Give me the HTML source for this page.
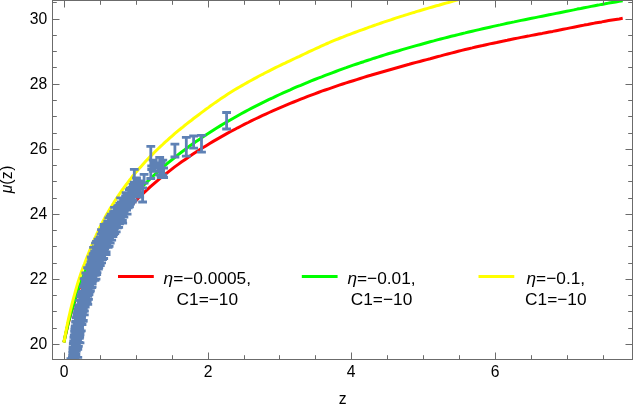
<!DOCTYPE html>
<html><head><meta charset="utf-8"><title>plot</title>
<style>
html,body{margin:0;padding:0;background:#fff;}
svg{display:block;will-change:transform;font-family:"Liberation Sans",sans-serif;}
</style></head><body>
<svg width="635" height="406" viewBox="0 0 635 406">
<defs><clipPath id="c"><rect x="52.5" y="0.5" width="580.0" height="359.0"/></clipPath></defs>
<g clip-path="url(#c)" fill="none" stroke-linecap="butt" stroke-linejoin="round">
<path d="M63.9 342.4 L64.9 337.7 L65.9 333.3 L66.9 329.1 L67.8 325.2 L68.8 321.4 L69.8 317.8 L70.7 314.4 L71.7 311.1 L72.7 307.9 L73.6 304.9 L74.6 302.0 L75.5 299.2 L76.4 296.5 L77.3 293.8 L78.2 291.3 L79.1 288.8 L80.0 286.4 L80.9 284.1 L81.8 281.9 L82.7 279.7 L83.6 277.5 L84.6 275.4 L85.5 273.4 L86.4 271.4 L87.3 269.5 L88.2 267.6 L89.1 265.7 L90.0 263.9 L90.9 262.1 L91.8 260.4 L92.7 258.7 L93.6 257.0 L94.5 255.4 L95.4 253.7 L96.3 252.2 L97.3 250.6 L98.2 249.1 L99.1 247.6 L100.0 246.1 L100.9 244.6 L101.8 243.2 L102.7 241.8 L103.6 240.4 L104.5 239.0 L105.4 237.7 L106.3 236.3 L107.2 235.0 L108.1 233.7 L109.0 232.5 L109.9 231.2 L110.9 230.0 L111.8 228.7 L112.7 227.5 L113.6 226.3 L114.5 225.1 L115.4 224.0 L116.3 222.8 L117.2 221.7 L118.1 220.5 L119.0 219.4 L119.9 218.3 L120.8 217.2 L121.7 216.1 L122.6 215.1 L123.6 214.0 L124.5 213.0 L125.4 211.9 L126.3 210.9 L127.2 209.9 L128.1 208.9 L129.0 207.9 L129.9 206.9 L130.8 205.9 L131.7 205.0 L132.6 204.0 L133.5 203.1 L134.4 202.1 L135.3 201.2 L136.2 200.3 L139.7 196.8 L143.2 193.4 L146.7 190.1 L150.2 186.9 L153.7 183.8 L157.2 180.8 L160.7 177.9 L164.2 175.1 L167.7 172.3 L171.2 169.6 L174.7 166.9 L178.2 164.4 L181.7 161.8 L185.2 159.4 L188.7 157.0 L192.2 154.6 L195.7 152.3 L199.2 150.0 L202.7 147.8 L206.2 145.7 L209.7 143.5 L213.2 141.4 L216.7 139.4 L220.2 137.4 L223.7 135.4 L227.2 133.4 L230.7 131.5 L234.2 129.7 L237.7 127.8 L241.2 126.0 L244.7 124.2 L248.2 122.5 L251.7 120.7 L255.2 119.0 L258.7 117.4 L262.2 115.7 L265.7 114.1 L269.2 112.5 L272.7 110.9 L276.2 109.4 L279.7 107.9 L283.2 106.4 L286.7 104.9 L290.2 103.4 L293.7 102.0 L297.2 100.6 L300.7 99.2 L304.2 97.8 L307.7 96.4 L311.2 95.1 L314.7 93.8 L318.2 92.5 L321.7 91.2 L325.2 90.0 L328.7 88.8 L332.2 87.6 L335.7 86.4 L339.2 85.2 L342.7 84.0 L346.2 82.9 L349.7 81.8 L353.2 80.7 L356.7 79.6 L360.2 78.5 L363.7 77.4 L367.2 76.3 L370.7 75.3 L374.2 74.2 L377.7 73.2 L381.2 72.2 L384.7 71.2 L388.2 70.2 L391.7 69.2 L395.2 68.2 L398.7 67.2 L402.2 66.2 L405.7 65.2 L409.2 64.3 L412.7 63.3 L416.2 62.4 L419.7 61.5 L423.2 60.5 L426.7 59.6 L430.2 58.7 L433.7 57.7 L437.2 56.8 L440.7 55.9 L444.2 54.9 L447.7 54.0 L451.2 53.1 L454.7 52.2 L458.2 51.3 L461.7 50.4 L465.2 49.5 L468.7 48.7 L472.2 47.9 L475.7 47.0 L479.2 46.2 L482.7 45.5 L486.2 44.7 L489.7 43.9 L493.2 43.2 L496.7 42.5 L500.2 41.7 L503.7 41.0 L507.2 40.3 L510.7 39.5 L514.2 38.8 L517.7 38.1 L521.2 37.4 L524.7 36.7 L528.2 36.1 L531.7 35.4 L535.2 34.7 L538.7 34.0 L542.2 33.4 L545.7 32.7 L549.2 32.0 L552.7 31.4 L556.2 30.7 L559.7 30.0 L563.2 29.3 L566.7 28.6 L570.2 27.9 L573.7 27.2 L577.2 26.5 L580.7 25.8 L584.2 25.1 L587.7 24.5 L591.2 23.8 L594.7 23.1 L598.2 22.5 L601.7 21.9 L605.2 21.2 L608.7 20.6 L612.2 20.0 L615.7 19.4 L619.2 18.9 L622.7 18.3" stroke="#ff0000" stroke-width="3"/>
<path d="M63.9 342.4 L64.9 337.6 L65.9 333.0 L66.9 328.7 L67.8 324.6 L68.8 320.7 L69.8 317.0 L70.7 313.5 L71.7 310.1 L72.7 306.8 L73.6 303.7 L74.6 300.6 L75.5 297.7 L76.4 294.9 L77.3 292.1 L78.2 289.5 L79.1 286.9 L80.0 284.4 L80.9 282.0 L81.8 279.6 L82.7 277.3 L83.6 275.1 L84.6 272.9 L85.5 270.7 L86.4 268.6 L87.3 266.6 L88.2 264.6 L89.1 262.6 L90.0 260.7 L90.9 258.9 L91.8 257.0 L92.7 255.2 L93.6 253.4 L94.5 251.7 L95.4 250.0 L96.3 248.3 L97.3 246.7 L98.2 245.1 L99.1 243.5 L100.0 241.9 L100.9 240.4 L101.8 238.8 L102.7 237.3 L103.6 235.9 L104.5 234.4 L105.4 233.0 L106.3 231.6 L107.2 230.2 L108.1 228.8 L109.0 227.4 L109.9 226.1 L110.9 224.8 L111.8 223.5 L112.7 222.2 L113.6 220.9 L114.5 219.6 L115.4 218.4 L116.3 217.2 L117.2 215.9 L118.1 214.7 L119.0 213.5 L119.9 212.4 L120.8 211.2 L121.7 210.1 L122.6 208.9 L123.6 207.8 L124.5 206.7 L125.4 205.6 L126.3 204.5 L127.2 203.4 L128.1 202.3 L129.0 201.3 L129.9 200.2 L130.8 199.2 L131.7 198.1 L132.6 197.1 L133.5 196.1 L134.4 195.1 L135.3 194.1 L136.2 193.1 L139.7 189.4 L143.2 185.8 L146.7 182.3 L150.2 178.9 L153.7 175.5 L157.2 172.3 L160.7 169.2 L164.2 166.2 L167.7 163.2 L171.2 160.3 L174.7 157.5 L178.2 154.7 L181.7 152.0 L185.2 149.4 L188.7 146.8 L192.2 144.3 L195.7 141.8 L199.2 139.4 L202.7 137.1 L206.2 134.7 L209.7 132.5 L213.2 130.2 L216.7 128.0 L220.2 125.9 L223.7 123.8 L227.2 121.7 L230.7 119.7 L234.2 117.7 L237.7 115.7 L241.2 113.8 L244.7 111.9 L248.2 110.0 L251.7 108.2 L255.2 106.4 L258.7 104.6 L262.2 102.8 L265.7 101.1 L269.2 99.4 L272.7 97.8 L276.2 96.1 L279.7 94.5 L283.2 92.9 L286.7 91.3 L290.2 89.8 L293.7 88.2 L297.2 86.7 L300.7 85.3 L304.2 83.8 L307.7 82.4 L311.2 80.9 L314.7 79.5 L318.2 78.1 L321.7 76.8 L325.2 75.4 L328.7 74.1 L332.2 72.8 L335.7 71.5 L339.2 70.2 L342.7 68.9 L346.2 67.7 L349.7 66.4 L353.2 65.2 L356.7 64.0 L360.2 62.8 L363.7 61.7 L367.2 60.5 L370.7 59.4 L374.2 58.2 L377.7 57.1 L381.2 56.0 L384.7 54.9 L388.2 53.8 L391.7 52.8 L395.2 51.7 L398.7 50.7 L402.2 49.6 L405.7 48.6 L409.2 47.6 L412.7 46.6 L416.2 45.6 L419.7 44.7 L423.2 43.7 L426.7 42.7 L430.2 41.8 L433.7 40.9 L437.2 39.9 L440.7 39.0 L444.2 38.1 L447.7 37.2 L451.2 36.3 L454.7 35.5 L458.2 34.6 L461.7 33.7 L465.2 32.9 L468.7 32.0 L472.2 31.2 L475.7 30.4 L479.2 29.6 L482.7 28.8 L486.2 28.0 L489.7 27.2 L493.2 26.4 L496.7 25.6 L500.2 24.9 L503.7 24.1 L507.2 23.3 L510.7 22.6 L514.2 21.9 L517.7 21.1 L521.2 20.4 L524.7 19.7 L528.2 19.0 L531.7 18.3 L535.2 17.6 L538.7 16.9 L542.2 16.2 L545.7 15.5 L549.2 14.8 L552.7 14.1 L556.2 13.4 L559.7 12.7 L563.2 12.0 L566.7 11.3 L570.2 10.6 L573.7 9.9 L577.2 9.1 L580.7 8.5 L584.2 7.8 L587.7 7.1 L591.2 6.4 L594.7 5.7 L598.2 5.1 L601.7 4.4 L605.2 3.8 L608.7 3.1 L612.2 2.5 L615.7 1.9 L619.2 1.3 L622.7 0.8" stroke="#00ff00" stroke-width="3"/>
<path d="M63.9 342.4 L64.9 336.9 L65.9 331.7 L66.9 326.8 L67.8 322.1 L68.8 317.7 L69.8 313.4 L70.7 309.3 L71.7 305.3 L72.7 301.5 L73.6 297.9 L74.6 294.4 L75.5 291.0 L76.4 287.8 L77.3 284.7 L78.2 281.8 L79.1 278.9 L80.0 276.2 L80.9 273.5 L81.8 270.9 L82.7 268.4 L83.6 266.0 L84.6 263.6 L85.5 261.2 L86.4 258.9 L87.3 256.6 L88.2 254.3 L89.1 252.1 L90.0 249.8 L90.9 247.6 L91.8 245.4 L92.7 243.3 L93.6 241.2 L94.5 239.1 L95.4 237.0 L96.3 235.0 L97.3 233.0 L98.2 231.0 L99.1 229.1 L100.0 227.2 L100.9 225.4 L101.8 223.6 L102.7 221.8 L103.6 220.1 L104.5 218.4 L105.4 216.7 L106.3 215.1 L107.2 213.5 L108.1 212.0 L109.0 210.4 L109.9 208.9 L110.9 207.4 L111.8 205.9 L112.7 204.4 L113.6 203.0 L114.5 201.5 L115.4 200.1 L116.3 198.7 L117.2 197.4 L118.1 196.0 L119.0 194.7 L119.9 193.3 L120.8 192.0 L121.7 190.7 L122.6 189.5 L123.6 188.2 L124.5 186.9 L125.4 185.7 L126.3 184.5 L127.2 183.3 L128.1 182.1 L129.0 180.9 L129.9 179.7 L130.8 178.6 L131.7 177.4 L132.6 176.3 L133.5 175.2 L134.4 174.1 L135.3 173.0 L136.2 171.9 L138.7 169.1 L141.1 166.4 L143.5 163.7 L145.9 161.1 L148.3 158.6 L150.7 156.1 L153.1 153.7 L155.5 151.3 L157.9 149.0 L160.3 146.7 L162.7 144.5 L165.1 142.2 L167.5 140.1 L169.9 137.9 L172.3 135.8 L174.7 133.7 L177.1 131.7 L179.5 129.7 L181.9 127.8 L184.3 125.8 L186.7 123.9 L189.1 122.0 L191.5 120.2 L193.9 118.3 L196.3 116.5 L198.7 114.7 L201.1 112.9 L203.5 111.1 L205.9 109.3 L208.3 107.6 L210.7 105.8 L213.1 104.1 L215.5 102.4 L217.9 100.8 L220.3 99.1 L222.7 97.5 L225.1 95.9 L227.5 94.3 L229.9 92.8 L232.3 91.3 L234.7 89.8 L237.1 88.4 L239.5 87.0 L241.9 85.6 L244.3 84.2 L246.7 82.9 L249.1 81.5 L251.5 80.2 L253.9 78.9 L256.3 77.6 L258.7 76.3 L261.1 75.0 L263.5 73.8 L265.9 72.5 L268.3 71.3 L270.7 70.1 L273.1 68.9 L275.5 67.7 L277.9 66.5 L280.3 65.4 L282.7 64.2 L285.1 63.1 L287.5 61.9 L289.9 60.8 L292.3 59.7 L294.7 58.5 L297.1 57.4 L299.5 56.3 L301.9 55.1 L304.3 54.0 L306.7 52.9 L309.1 51.7 L311.5 50.6 L313.9 49.5 L316.3 48.4 L318.7 47.3 L321.1 46.2 L323.5 45.1 L325.9 44.0 L328.3 43.0 L330.7 41.9 L333.1 40.9 L335.5 39.9 L337.9 39.0 L340.3 38.0 L342.7 37.1 L345.1 36.1 L347.5 35.2 L349.9 34.3 L352.3 33.4 L354.7 32.5 L357.1 31.6 L359.6 30.7 L362.0 29.8 L364.4 29.0 L366.8 28.1 L369.2 27.2 L371.6 26.4 L374.0 25.5 L376.4 24.7 L378.8 23.8 L381.2 23.0 L383.6 22.2 L386.0 21.4 L388.4 20.6 L390.8 19.8 L393.2 19.0 L395.6 18.2 L398.0 17.4 L400.4 16.6 L402.8 15.9 L405.2 15.1 L407.6 14.4 L410.0 13.6 L412.4 12.9 L414.8 12.2 L417.2 11.4 L419.6 10.7 L422.0 10.0 L424.4 9.3 L426.8 8.6 L429.2 7.9 L431.6 7.2 L434.0 6.5 L436.4 5.8 L438.8 5.2 L441.2 4.5 L443.6 3.8 L446.0 3.1 L448.4 2.5 L450.8 1.8 L453.2 1.1 L455.6 0.4 L458.0 -0.2 L460.4 -0.9 L462.8 -1.6 L465.2 -2.3 L467.6 -3.0 L470.0 -3.6" stroke="#ffff00" stroke-width="3"/>
<path d="M64.5 423.0 L65.5 423.0 L66.5 423.0 L67.5 401.0 L68.5 381.3 L69.5 363.8 L70.5 349.0 L71.5 339.2 L72.5 329.5 L73.5 321.6 L74.5 316.6 L75.5 311.6 L76.5 306.5 L77.5 301.5 L78.5 297.6 L79.5 294.2 L80.5 290.8 L81.5 287.5 L82.5 284.3 L83.5 280.6 L84.5 276.7 L85.5 272.9 L86.5 269.4 L87.5 266.0 L88.5 262.7 L89.5 259.6 L90.5 256.6 L91.5 253.7 L92.5 250.9 L93.5 248.1 L94.5 245.5 L95.5 242.9 L96.5 240.6 L97.5 238.4 L98.5 236.2 L99.5 234.0 L100.5 231.9 L101.5 229.9 L102.5 227.9 L103.5 225.9 L104.5 223.9 L105.5 222.2 L106.5 220.5 L107.5 218.9 L108.5 217.2 L109.5 215.7 L110.5 214.1 L111.5 212.5 L112.5 211.0 L113.5 209.5 L114.5 208.0 L115.5 206.7 L116.5 205.3 L117.5 204.0 L118.5 202.7 L119.5 201.4 L120.5 200.2 L121.5 198.9 L122.5 197.6 L123.5 196.3 L124.5 195.0 L125.5 193.7 L126.5 192.4 L127.5 191.2 L128.5 189.9 L129.5 188.7 L130.5 187.4 L131.5 186.1 L132.5 184.8 L137.5 195.3 L136.5 197.1 L135.5 198.6 L134.5 200.0 L133.5 201.5 L132.5 203.5 L131.5 205.4 L130.5 207.4 L129.5 209.3 L128.5 211.3 L127.5 213.3 L126.5 215.2 L125.5 217.2 L124.5 219.0 L123.5 220.8 L122.5 222.6 L121.5 224.5 L120.5 226.3 L119.5 228.1 L118.5 229.9 L117.5 231.7 L116.5 233.5 L115.5 235.4 L114.5 237.2 L113.5 239.5 L112.5 241.8 L111.5 244.0 L110.5 246.3 L109.5 248.6 L108.5 250.9 L107.5 253.1 L106.5 255.4 L105.5 257.7 L104.5 260.0 L103.5 262.2 L102.5 264.5 L101.5 266.7 L100.5 268.9 L99.5 271.2 L98.5 273.4 L97.5 275.7 L96.5 278.1 L95.5 281.0 L94.5 283.9 L93.5 286.7 L92.5 289.6 L91.5 292.4 L90.5 295.3 L89.5 299.0 L88.5 304.1 L87.5 309.3 L86.5 314.4 L85.5 319.4 L84.5 324.3 L83.5 329.3 L82.5 334.2 L81.5 339.2 L80.5 344.1 L79.5 349.1 L78.5 354.0 L77.5 359.1 L76.5 364.2 L75.5 369.3 L74.5 374.4 L73.5 379.6 L72.5 384.7 L71.5 389.8 L70.5 394.9 L69.5 397.0Z" fill="#5e81b5" stroke="none"/>
<path d="M67.0 421.4V400.0M62.6 421.4h8.8M62.6 400.0h8.8M67.4 420.0V398.6M63.0 420.0h8.8M63.0 398.6h8.8M68.3 422.4V396.4M63.9 422.4h8.8M63.9 396.4h8.8M68.1 420.0V396.1M63.7 420.0h8.8M63.7 396.1h8.8M70.5 388.1V396.1M66.1 388.1h8.8M66.1 396.1h8.8M69.9 402.2V388.3M65.5 402.2h8.8M65.5 388.3h8.8M69.4 400.4V386.7M65.0 400.4h8.8M65.0 386.7h8.8M70.0 399.7V387.8M65.6 399.7h8.8M65.6 387.8h8.8M70.0 398.4V385.9M65.6 398.4h8.8M65.6 385.9h8.8M70.1 399.0V387.2M65.7 399.0h8.8M65.7 387.2h8.8M70.3 396.0V386.2M65.9 396.0h8.8M65.9 386.2h8.8M70.2 396.6V386.7M65.8 396.6h8.8M65.8 386.7h8.8M70.7 394.0V384.1M66.3 394.0h8.8M66.3 384.1h8.8M70.3 392.8V386.1M65.9 392.8h8.8M65.9 386.1h8.8M70.5 391.6V383.7M66.1 391.6h8.8M66.1 383.7h8.8M70.4 389.6V385.4M66.0 389.6h8.8M66.0 385.4h8.8M70.0 389.2V385.3M65.6 389.2h8.8M65.6 385.3h8.8M70.5 389.4V384.9M66.1 389.4h8.8M66.1 384.9h8.8M70.7 387.2V384.6M66.3 387.2h8.8M66.3 384.6h8.8M70.7 385.7V384.3M66.3 385.7h8.8M66.3 384.3h8.8M70.4 384.8V383.1M66.0 384.8h8.8M66.0 383.1h8.8M70.8 383.5V383.8M66.4 383.5h8.8M66.4 383.8h8.8M70.6 382.7V382.9M66.2 382.7h8.8M66.2 382.9h8.8M70.9 381.5V383.2M66.5 381.5h8.8M66.5 383.2h8.8M71.3 380.3V381.7M66.9 380.3h8.8M66.9 381.7h8.8M71.0 380.4V382.5M66.6 380.4h8.8M66.6 382.5h8.8M70.7 377.9V380.3M66.3 377.9h8.8M66.3 380.3h8.8M71.1 377.0V381.9M66.7 377.0h8.8M66.7 381.9h8.8M70.7 375.8V379.0M66.3 375.8h8.8M66.3 379.0h8.8M71.3 374.5V381.2M66.9 374.5h8.8M66.9 381.2h8.8M71.5 373.6V381.0M67.1 373.6h8.8M67.1 381.0h8.8M71.4 374.3V380.6M67.0 374.3h8.8M67.0 380.6h8.8M70.9 371.6V379.8M66.5 371.6h8.8M66.5 379.8h8.8M71.5 369.7V378.9M67.1 369.7h8.8M67.1 378.9h8.8M71.9 369.3V377.0M67.5 369.3h8.8M67.5 377.0h8.8M71.6 367.6V379.4M67.2 367.6h8.8M67.2 379.4h8.8M71.8 369.4V376.5M67.4 369.4h8.8M67.4 376.5h8.8M71.7 368.5V375.9M67.3 368.5h8.8M67.3 375.9h8.8M71.8 365.5V376.6M67.4 365.5h8.8M67.4 376.6h8.8M71.9 363.9V375.0M67.5 363.9h8.8M67.5 375.0h8.8M72.3 366.0V375.5M67.9 366.0h8.8M67.9 375.5h8.8M72.0 361.6V372.1M67.6 361.6h8.8M67.6 372.1h8.8M72.1 366.3V377.1M67.7 366.3h8.8M67.7 377.1h8.8M72.1 360.5V371.0M67.7 360.5h8.8M67.7 371.0h8.8M72.1 366.7V374.2M67.7 366.7h8.8M67.7 374.2h8.8M73.9 366.2V374.2M69.5 366.2h8.8M69.5 374.2h8.8M72.3 358.6V368.6M67.9 358.6h8.8M67.9 368.6h8.8M72.4 364.8V373.3M68.0 364.8h8.8M68.0 373.3h8.8M70.9 358.6V366.6M66.5 358.6h8.8M66.5 366.6h8.8M72.4 357.4V368.4M68.0 357.4h8.8M68.0 368.4h8.8M72.3 363.8V372.7M67.9 363.8h8.8M67.9 372.7h8.8M72.6 355.1V367.4M68.2 355.1h8.8M68.2 367.4h8.8M72.4 363.9V372.8M68.0 363.9h8.8M68.0 372.8h8.8M72.7 352.0V364.7M68.3 352.0h8.8M68.3 364.7h8.8M72.5 363.5V373.2M68.1 363.5h8.8M68.1 373.2h8.8M72.9 348.8V357.7M68.5 348.8h8.8M68.5 357.7h8.8M73.2 360.1V369.9M68.8 360.1h8.8M68.8 369.9h8.8M75.0 361.9V369.9M70.6 361.9h8.8M70.6 369.9h8.8M73.1 346.8V355.6M68.7 346.8h8.8M68.7 355.6h8.8M73.4 364.0V371.8M69.0 364.0h8.8M69.0 371.8h8.8M75.1 363.8V371.8M70.7 363.8h8.8M70.7 371.8h8.8M73.3 343.6V354.4M68.9 343.6h8.8M68.9 354.4h8.8M73.2 358.2V369.1M68.8 358.2h8.8M68.8 369.1h8.8M73.4 343.1V351.2M69.0 343.1h8.8M69.0 351.2h8.8M72.9 357.4V368.7M68.5 357.4h8.8M68.5 368.7h8.8M73.7 341.0V351.7M69.3 341.0h8.8M69.3 351.7h8.8M73.9 355.9V367.7M69.5 355.9h8.8M69.5 367.7h8.8M73.9 337.4V347.2M69.5 337.4h8.8M69.5 347.2h8.8M74.0 355.6V364.9M69.6 355.6h8.8M69.6 364.9h8.8M74.2 335.9V346.8M69.8 335.9h8.8M69.8 346.8h8.8M73.9 352.2V364.1M69.5 352.2h8.8M69.5 364.1h8.8M74.4 334.9V347.8M70.0 334.9h8.8M70.0 347.8h8.8M74.5 353.7V362.6M70.1 353.7h8.8M70.1 362.6h8.8M74.6 331.4V341.7M70.2 331.4h8.8M70.2 341.7h8.8M74.9 355.4V362.5M70.5 355.4h8.8M70.5 362.5h8.8M74.8 329.2V340.9M70.4 329.2h8.8M70.4 340.9h8.8M74.5 352.4V362.5M70.1 352.4h8.8M70.1 362.5h8.8M75.1 327.1V339.8M70.7 327.1h8.8M70.7 339.8h8.8M74.7 350.8V361.0M70.3 350.8h8.8M70.3 361.0h8.8M75.3 325.9V336.3M70.9 325.9h8.8M70.9 336.3h8.8M75.1 347.2V359.3M70.7 347.2h8.8M70.7 359.3h8.8M75.6 322.1V332.6M71.2 322.1h8.8M71.2 332.6h8.8M75.3 347.3V357.3M70.9 347.3h8.8M70.9 357.3h8.8M77.8 349.3V357.3M73.4 349.3h8.8M73.4 357.3h8.8M75.9 321.5V331.9M71.5 321.5h8.8M71.5 331.9h8.8M75.9 348.1V355.5M71.5 348.1h8.8M71.5 355.5h8.8M76.3 317.8V327.6M71.9 317.8h8.8M71.9 327.6h8.8M75.9 342.2V354.1M71.5 342.2h8.8M71.5 354.1h8.8M76.7 316.9V329.4M72.3 316.9h8.8M72.3 329.4h8.8M76.3 344.0V351.2M71.9 344.0h8.8M71.9 351.2h8.8M77.1 314.0V324.8M72.7 314.0h8.8M72.7 324.8h8.8M76.7 341.5V349.3M72.3 341.5h8.8M72.3 349.3h8.8M77.6 312.1V321.3M73.2 312.1h8.8M73.2 321.3h8.8M77.5 339.7V347.7M73.1 339.7h8.8M73.1 347.7h8.8M78.0 311.1V321.7M73.6 311.1h8.8M73.6 321.7h8.8M78.4 334.9V346.4M74.0 334.9h8.8M74.0 346.4h8.8M78.4 309.2V317.5M74.0 309.2h8.8M74.0 317.5h8.8M78.9 334.6V342.4M74.5 334.6h8.8M74.5 342.4h8.8M78.8 307.1V316.6M74.4 307.1h8.8M74.4 316.6h8.8M79.1 333.4V342.8M74.7 333.4h8.8M74.7 342.8h8.8M80.0 334.8V342.8M75.6 334.8h8.8M75.6 342.8h8.8M79.3 305.0V312.7M74.9 305.0h8.8M74.9 312.7h8.8M79.3 328.4V338.4M74.9 328.4h8.8M74.9 338.4h8.8M79.7 300.3V310.6M75.3 300.3h8.8M75.3 310.6h8.8M79.7 329.3V337.2M75.3 329.3h8.8M75.3 337.2h8.8M80.2 300.4V307.9M75.8 300.4h8.8M75.8 307.9h8.8M79.7 323.7V333.5M75.3 323.7h8.8M75.3 333.5h8.8M80.7 296.8V307.4M76.3 296.8h8.8M76.3 307.4h8.8M80.2 319.8V331.8M75.8 319.8h8.8M75.8 331.8h8.8M81.3 294.4V302.4M76.9 294.4h8.8M76.9 302.4h8.8M81.3 318.6V330.9M76.9 318.6h8.8M76.9 330.9h8.8M82.0 292.5V303.1M77.6 292.5h8.8M77.6 303.1h8.8M82.0 312.6V324.5M77.6 312.6h8.8M77.6 324.5h8.8M82.7 291.4V300.8M78.3 291.4h8.8M78.3 300.8h8.8M83.1 310.2V321.3M78.7 310.2h8.8M78.7 321.3h8.8M83.4 286.8V295.8M79.0 286.8h8.8M79.0 295.8h8.8M83.3 311.3V320.5M78.9 311.3h8.8M78.9 320.5h8.8M84.2 286.0V295.0M79.8 286.0h8.8M79.8 295.0h8.8M84.3 304.7V314.9M79.9 304.7h8.8M79.9 314.9h8.8M84.9 284.0V296.9M80.5 284.0h8.8M80.5 296.9h8.8M84.4 299.6V311.0M80.0 299.6h8.8M80.0 311.0h8.8M85.5 280.8V288.4M81.1 280.8h8.8M81.1 288.4h8.8M85.2 296.7V307.0M80.8 296.7h8.8M80.8 307.0h8.8M86.2 278.7V290.6M81.8 278.7h8.8M81.8 290.6h8.8M85.8 292.8V304.3M81.4 292.8h8.8M81.4 304.3h8.8M84.1 278.7V286.7M79.7 278.7h8.8M79.7 286.7h8.8M87.8 296.3V304.3M83.4 296.3h8.8M83.4 304.3h8.8M86.8 276.5V283.8M82.4 276.5h8.8M82.4 283.8h8.8M87.2 291.9V302.1M82.8 291.9h8.8M82.8 302.1h8.8M87.4 274.0V282.7M83.0 274.0h8.8M83.0 282.7h8.8M87.6 292.3V299.4M83.2 292.3h8.8M83.2 299.4h8.8M88.5 291.4V299.4M84.1 291.4h8.8M84.1 299.4h8.8M87.9 273.0V284.5M83.5 273.0h8.8M83.5 284.5h8.8M87.5 282.9V295.6M83.1 282.9h8.8M83.1 295.6h8.8M85.8 273.0V281.0M81.4 273.0h8.8M81.4 281.0h8.8M88.6 268.5V278.6M84.2 268.5h8.8M84.2 278.6h8.8M89.0 284.6V294.4M84.6 284.6h8.8M84.6 294.4h8.8M89.1 267.7V277.5M84.7 267.7h8.8M84.7 277.5h8.8M88.8 284.7V294.9M84.4 284.7h8.8M84.4 294.9h8.8M87.6 267.7V275.7M83.2 267.7h8.8M83.2 275.7h8.8M89.7 265.6V275.2M85.3 265.6h8.8M85.3 275.2h8.8M90.0 278.8V291.8M85.6 278.8h8.8M85.6 291.8h8.8M90.3 264.7V276.4M85.9 264.7h8.8M85.9 276.4h8.8M90.4 282.1V290.7M86.0 282.1h8.8M86.0 290.7h8.8M91.0 262.0V270.2M86.6 262.0h8.8M86.6 270.2h8.8M90.7 274.3V286.8M86.3 274.3h8.8M86.3 286.8h8.8M92.1 278.8V286.8M87.7 278.8h8.8M87.7 286.8h8.8M91.7 259.5V267.1M87.3 259.5h8.8M87.3 267.1h8.8M91.7 280.1V287.6M87.3 280.1h8.8M87.3 287.6h8.8M92.3 257.0V265.3M87.9 257.0h8.8M87.9 265.3h8.8M92.2 271.6V283.6M87.8 271.6h8.8M87.8 283.6h8.8M91.2 257.0V265.0M86.8 257.0h8.8M86.8 265.0h8.8M93.1 253.8V263.4M88.7 253.8h8.8M88.7 263.4h8.8M92.9 272.0V281.2M88.5 272.0h8.8M88.5 281.2h8.8M93.9 253.2V265.8M89.5 253.2h8.8M89.5 265.8h8.8M93.8 272.8V280.3M89.4 272.8h8.8M89.4 280.3h8.8M95.0 272.3V280.3M90.6 272.3h8.8M90.6 280.3h8.8M94.7 250.9V259.7M90.3 250.9h8.8M90.3 259.7h8.8M94.9 270.9V279.2M90.5 270.9h8.8M90.5 279.2h8.8M96.0 271.2V279.2M91.6 271.2h8.8M91.6 279.2h8.8M95.5 247.3V255.2M91.1 247.3h8.8M91.1 255.2h8.8M95.3 266.2V275.4M90.9 266.2h8.8M90.9 275.4h8.8M93.6 247.3V255.3M89.2 247.3h8.8M89.2 255.3h8.8M96.4 246.7V256.3M92.0 246.7h8.8M92.0 256.3h8.8M96.7 265.6V274.6M92.3 265.6h8.8M92.3 274.6h8.8M97.2 243.1V252.3M92.8 243.1h8.8M92.8 252.3h8.8M97.0 263.3V272.6M92.6 263.3h8.8M92.6 272.6h8.8M95.5 243.1V251.1M91.1 243.1h8.8M91.1 251.1h8.8M98.1 241.3V249.4M93.7 241.3h8.8M93.7 249.4h8.8M98.4 260.3V269.0M94.0 260.3h8.8M94.0 269.0h8.8M96.5 241.3V249.3M92.1 241.3h8.8M92.1 249.3h8.8M99.2 239.1V250.9M94.8 239.1h8.8M94.8 250.9h8.8M98.8 255.9V267.6M94.4 255.9h8.8M94.4 267.6h8.8M98.1 239.1V247.1M93.7 239.1h8.8M93.7 247.1h8.8M100.0 237.2V245.1M95.6 237.2h8.8M95.6 245.1h8.8M100.3 257.0V265.5M95.9 257.0h8.8M95.9 265.5h8.8M101.1 234.1V243.1M96.7 234.1h8.8M96.7 243.1h8.8M101.6 253.0V262.9M97.2 253.0h8.8M97.2 262.9h8.8M102.3 231.6V243.6M97.9 231.6h8.8M97.9 243.6h8.8M102.5 247.9V259.7M98.1 247.9h8.8M98.1 259.7h8.8M103.4 229.7V241.0M99.0 229.7h8.8M99.0 241.0h8.8M103.7 249.0V258.5M99.3 249.0h8.8M99.3 258.5h8.8M101.5 229.7V237.7M97.1 229.7h8.8M97.1 237.7h8.8M104.3 226.8V236.4M99.9 226.8h8.8M99.9 236.4h8.8M104.1 247.4V254.7M99.7 247.4h8.8M99.7 254.7h8.8M106.1 246.7V254.7M101.7 246.7h8.8M101.7 254.7h8.8M105.3 224.5V234.2M100.9 224.5h8.8M100.9 234.2h8.8M105.4 245.5V252.7M101.0 245.5h8.8M101.0 252.7h8.8M104.1 224.5V232.5M99.7 224.5h8.8M99.7 232.5h8.8M106.4 223.8V232.2M102.0 223.8h8.8M102.0 232.2h8.8M106.1 244.0V252.0M101.7 244.0h8.8M101.7 252.0h8.8M107.7 221.1V229.7M103.3 221.1h8.8M103.3 229.7h8.8M108.1 238.2V247.3M103.7 238.2h8.8M103.7 247.3h8.8M108.8 217.9V230.6M104.4 217.9h8.8M104.4 230.6h8.8M109.1 236.1V246.3M104.7 236.1h8.8M104.7 246.3h8.8M110.2 216.2V223.3M105.8 216.2h8.8M105.8 223.3h8.8M110.2 231.3V243.1M105.8 231.3h8.8M105.8 243.1h8.8M111.3 214.7V223.2M106.9 214.7h8.8M106.9 223.2h8.8M111.7 229.4V240.2M107.3 229.4h8.8M107.3 240.2h8.8M112.5 214.1V221.1M108.1 214.1h8.8M108.1 221.1h8.8M112.9 224.7V236.7M108.5 224.7h8.8M108.5 236.7h8.8M111.2 214.1V222.1M106.8 214.1h8.8M106.8 222.1h8.8M113.6 211.6V224.3M109.2 211.6h8.8M109.2 224.3h8.8M113.7 225.9V234.7M109.3 225.9h8.8M109.3 234.7h8.8M114.8 210.8V219.0M110.4 210.8h8.8M110.4 219.0h8.8M114.8 225.6V233.5M110.4 225.6h8.8M110.4 233.5h8.8M116.0 207.4V217.2M111.6 207.4h8.8M111.6 217.2h8.8M116.2 220.7V231.9M111.8 220.7h8.8M111.8 231.9h8.8M114.5 207.4V215.4M110.1 207.4h8.8M110.1 215.4h8.8M117.6 206.2V213.3M113.2 206.2h8.8M113.2 213.3h8.8M117.4 219.5V227.9M113.0 219.5h8.8M113.0 227.9h8.8M118.6 205.3V213.5M114.2 205.3h8.8M114.2 213.5h8.8M118.7 218.1V227.4M114.3 218.1h8.8M114.3 227.4h8.8M119.8 203.3V211.8M115.4 203.3h8.8M115.4 211.8h8.8M119.5 214.9V223.8M115.1 214.9h8.8M115.1 223.8h8.8M121.2 201.9V209.5M116.8 201.9h8.8M116.8 209.5h8.8M120.9 212.1V223.2M116.5 212.1h8.8M116.5 223.2h8.8M122.7 215.2V223.2M118.3 215.2h8.8M118.3 223.2h8.8M122.7 197.8V206.2M118.3 197.8h8.8M118.3 206.2h8.8M122.4 210.9V220.3M118.0 210.9h8.8M118.0 220.3h8.8M120.6 197.8V205.8M116.2 197.8h8.8M116.2 205.8h8.8M124.0 198.2V210.1M119.6 198.2h8.8M119.6 210.1h8.8M123.9 207.7V217.2M119.5 207.7h8.8M119.5 217.2h8.8M122.5 198.2V206.2M118.1 198.2h8.8M118.1 206.2h8.8M125.6 195.8V206.4M121.2 195.8h8.8M121.2 206.4h8.8M125.1 205.0V214.1M120.7 205.0h8.8M120.7 214.1h8.8M127.1 206.1V214.1M122.7 206.1h8.8M122.7 214.1h8.8M126.9 194.6V205.3M122.5 194.6h8.8M122.5 205.3h8.8M126.6 197.8V210.2M122.2 197.8h8.8M122.2 210.2h8.8M128.2 192.6V205.5M123.8 192.6h8.8M123.8 205.5h8.8M128.2 195.8V207.8M123.8 195.8h8.8M123.8 207.8h8.8M126.1 192.6V200.6M121.7 192.6h8.8M121.7 200.6h8.8M129.3 189.7V200.2M124.9 189.7h8.8M124.9 200.2h8.8M129.5 194.2V206.8M125.1 194.2h8.8M125.1 206.8h8.8M130.4 188.1V200.5M126.0 188.1h8.8M126.0 200.5h8.8M130.5 193.6V204.0M126.1 193.6h8.8M126.1 204.0h8.8M132.0 187.5V195.2M127.6 187.5h8.8M127.6 195.2h8.8M132.3 189.8V202.1M127.9 189.8h8.8M127.9 202.1h8.8M133.5 185.4V192.9M129.1 185.4h8.8M129.1 192.9h8.8M133.0 187.4V200.3M128.6 187.4h8.8M128.6 200.3h8.8M134.7 184.4V193.7M130.3 184.4h8.8M130.3 193.7h8.8M134.8 189.4V196.5M130.4 189.4h8.8M130.4 196.5h8.8M133.1 184.4V192.4M128.7 184.4h8.8M128.7 192.4h8.8M136.2 188.5V196.5M131.8 188.5h8.8M131.8 196.5h8.8M136.0 182.1V190.6M131.6 182.1h8.8M131.6 190.6h8.8M136.1 184.5V195.4M131.7 184.5h8.8M131.7 195.4h8.8M134.2 182.1V190.1M129.8 182.1h8.8M129.8 190.1h8.8M138.2 187.4V195.4M133.8 187.4h8.8M133.8 195.4h8.8M150.8 146.4V178.5M146.4 146.4h8.8M146.4 178.5h8.8M174.9 144.2V157.0M170.5 144.2h8.8M170.5 157.0h8.8M134.3 169.4V190.0M129.9 169.4h8.8M129.9 190.0h8.8M144.1 174.4V183.2M139.7 174.4h8.8M139.7 183.2h8.8M142.6 188.0V202.0M138.2 188.0h8.8M138.2 202.0h8.8M186.3 137.4V156.1M181.9 137.4h8.8M181.9 156.1h8.8M193.6 136.0V148.2M189.2 136.0h8.8M189.2 148.2h8.8M201.5 135.4V152.1M197.1 135.4h8.8M197.1 152.1h8.8M226.6 112.5V129.0M222.2 112.5h8.8M222.2 129.0h8.8M159.7 157.3V175.0M155.3 157.3h8.8M155.3 175.0h8.8M162.8 160.2V175.0M158.4 160.2h8.8M158.4 175.0h8.8M158.3 165.5V171.3M153.9 165.5h8.8M153.9 171.3h8.8M151.7 166.0V169.5M147.3 166.0h8.8M147.3 169.5h8.8M153.2 160.2V171.3M148.8 160.2h8.8M148.8 171.3h8.8M161.2 162.8V177.5M156.8 162.8h8.8M156.8 177.5h8.8M156.8 163.0V168.4M152.4 163.0h8.8M152.4 168.4h8.8M163.6 168.0V177.5M159.2 168.0h8.8M159.2 177.5h8.8M139.7 185.0V197.0M135.3 185.0h8.8M135.3 197.0h8.8M138.5 181.0V193.0M134.1 181.0h8.8M134.1 193.0h8.8M136.5 178.0V190.0M132.1 178.0h8.8M132.1 190.0h8.8" stroke="#5e81b5" stroke-width="2.8"/>
</g>
<g fill="none" stroke="#6b6b6b" stroke-width="1">
<rect x="52.5" y="0.5" width="580.0" height="359.0"/>
<path d="M64.50 359.50v-7.0M64.50 0.50v7.0M100.50 359.50v-4.3M100.50 0.50v4.3M136.50 359.50v-4.3M136.50 0.50v4.3M172.50 359.50v-4.3M172.50 0.50v4.3M208.50 359.50v-7.0M208.50 0.50v7.0M244.50 359.50v-4.3M244.50 0.50v4.3M279.50 359.50v-4.3M279.50 0.50v4.3M315.50 359.50v-4.3M315.50 0.50v4.3M351.50 359.50v-7.0M351.50 0.50v7.0M387.50 359.50v-4.3M387.50 0.50v4.3M423.50 359.50v-4.3M423.50 0.50v4.3M459.50 359.50v-4.3M459.50 0.50v4.3M495.50 359.50v-7.0M495.50 0.50v7.0M531.50 359.50v-4.3M531.50 0.50v4.3M567.50 359.50v-4.3M567.50 0.50v4.3M603.50 359.50v-4.3M603.50 0.50v4.3M52.50 344.50h7.0M632.50 344.50h-7.0M52.50 328.50h4.3M632.50 328.50h-4.3M52.50 311.50h4.3M632.50 311.50h-4.3M52.50 295.50h4.3M632.50 295.50h-4.3M52.50 279.50h7.0M632.50 279.50h-7.0M52.50 263.50h4.3M632.50 263.50h-4.3M52.50 246.50h4.3M632.50 246.50h-4.3M52.50 230.50h4.3M632.50 230.50h-4.3M52.50 214.50h7.0M632.50 214.50h-7.0M52.50 198.50h4.3M632.50 198.50h-4.3M52.50 181.50h4.3M632.50 181.50h-4.3M52.50 165.50h4.3M632.50 165.50h-4.3M52.50 149.50h7.0M632.50 149.50h-7.0M52.50 133.50h4.3M632.50 133.50h-4.3M52.50 116.50h4.3M632.50 116.50h-4.3M52.50 100.50h4.3M632.50 100.50h-4.3M52.50 84.50h7.0M632.50 84.50h-7.0M52.50 67.50h4.3M632.50 67.50h-4.3M52.50 51.50h4.3M632.50 51.50h-4.3M52.50 35.50h4.3M632.50 35.50h-4.3M52.50 19.50h7.0M632.50 19.50h-7.0M52.50 2.50h4.3M632.50 2.50h-4.3"/>
</g>
<g font-size="15.7" fill="#000"><text transform="translate(64.1 377.3) scale(1 1.050)" text-anchor="middle">0</text><text transform="translate(208.1 377.3) scale(1 1.050)" text-anchor="middle">2</text><text transform="translate(351.1 377.3) scale(1 1.050)" text-anchor="middle">4</text><text transform="translate(495.1 377.3) scale(1 1.050)" text-anchor="middle">6</text><text transform="translate(47.2 349.1) scale(1 1.050)" text-anchor="end">20</text><text transform="translate(47.2 284.1) scale(1 1.050)" text-anchor="end">22</text><text transform="translate(47.2 219.1) scale(1 1.050)" text-anchor="end">24</text><text transform="translate(47.2 154.1) scale(1 1.050)" text-anchor="end">26</text><text transform="translate(47.2 89.1) scale(1 1.050)" text-anchor="end">28</text><text transform="translate(47.2 24.1) scale(1 1.050)" text-anchor="end">30</text>
<text transform="translate(342.6 403.6) scale(1 1.050)" text-anchor="middle">z</text>
<text transform="translate(12.4 193.3) rotate(-90) scale(1 1.05)"><tspan font-style="italic">μ</tspan>(<tspan dx="0.3">z</tspan><tspan dx="0.5">)</tspan></text>
</g>
<g font-size="17.3" fill="#000" fill-rule="nonzero">
<path d="M118.0 276.6h35.8" stroke="#ff0000" stroke-width="3"/><text x="207.3" y="283.5" text-anchor="middle"><tspan font-style="italic">η</tspan>=−0.0005,</text><text x="207.3" y="304.5" text-anchor="middle">C1=−10</text>
<path d="M301.8 276.6h35.8" stroke="#00ff00" stroke-width="3"/><text x="381.5" y="283.5" text-anchor="middle"><tspan font-style="italic">η</tspan>=−0.01,</text><text x="381.5" y="304.5" text-anchor="middle">C1=−10</text>
<path d="M478.5 276.6h35.8" stroke="#ffff00" stroke-width="3"/><text x="555.8" y="283.5" text-anchor="middle"><tspan font-style="italic">η</tspan>=−0.1,</text><text x="555.8" y="304.5" text-anchor="middle">C1=−10</text>
</g>
</svg>
</body></html>
